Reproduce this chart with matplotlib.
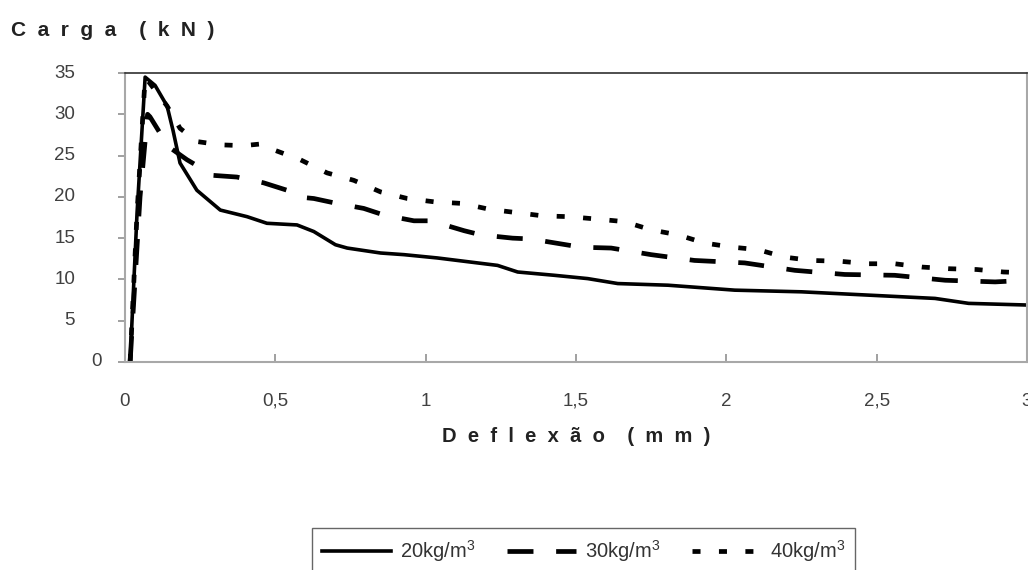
import matplotlib.pyplot as plt
from matplotlib.transforms import blended_transform_factory

# dados (deflexão em mm, carga em kN)
x20 = [0.017, 0.04, 0.067, 0.1, 0.14, 0.16, 0.183, 0.239, 0.317, 0.406, 0.472, 0.572,
       0.628, 0.7, 0.739, 0.85, 0.928, 1.039, 1.15, 1.239, 1.306, 1.428, 1.539, 1.639,
       1.806, 2.028, 2.25, 2.472, 2.694, 2.806, 3.0]
y20 = [0, 18, 34.5, 33.5, 31, 28, 24.1, 20.8, 18.4, 17.6, 16.8, 16.6,
       15.8, 14.2, 13.8, 13.2, 13.0, 12.6, 12.1, 11.7, 10.9, 10.5, 10.1, 9.5,
       9.3, 8.7, 8.5, 8.1, 7.7, 7.1, 6.9]

x30 = [0.017, 0.05, 0.075, 0.083, 0.144, 0.206, 0.294, 0.372, 0.461, 0.539, 0.572, 0.628,
       0.705, 0.794, 0.861, 0.961, 1.017, 1.128, 1.183, 1.289, 1.35, 1.45, 1.517, 1.617,
       1.75, 1.894, 2.061, 2.228, 2.394, 2.56, 2.728, 2.894, 3.0]
y30 = [0, 20, 30, 29.7, 26.1, 24.5, 22.6, 22.4, 21.7, 20.8, 20.0, 19.8,
       19.2, 18.6, 17.8, 17.1, 17.1, 15.9, 15.4, 15.0, 14.9, 14.3, 13.9, 13.8,
       13.0, 12.3, 12.0, 11.1, 10.6, 10.5, 9.9, 9.7, 9.9]

x40 = [0.017, 0.04, 0.067, 0.14, 0.183, 0.239, 0.317, 0.394, 0.45, 0.494, 0.583, 0.672,
       0.761, 0.85, 0.939, 1.028, 1.122, 1.211, 1.3, 1.389, 1.478, 1.572, 1.661, 1.75,
       1.839, 1.928, 2.022, 2.106, 2.194, 2.283, 2.378, 2.472, 2.56, 2.65, 2.739, 2.833,
       2.922, 3.0]
y40 = [0, 18, 34.5, 31, 28.3, 26.7, 26.3, 26.2, 26.4, 25.7, 24.5, 22.9,
       22.0, 20.6, 19.8, 19.4, 19.2, 18.5, 18.1, 17.7, 17.6, 17.3, 17.0, 16.0,
       15.4, 14.4, 13.9, 13.6, 12.7, 12.3, 12.2, 11.9, 11.9, 11.5, 11.3, 11.2,
       10.9, 10.8]

labels = ['20kg/m$^3$', '30kg/m$^3$', '40kg/m$^3$']
xticks = [0, 0.5, 1, 1.5, 2, 2.5, 3]
xticklabels = ['0', '0,5', '1', '1,5', '2', '2,5', '3']
yticks = [0, 5, 10, 15, 20, 25, 30, 35]

plt.rcParams['font.family'] = ['Liberation Sans', 'DejaVu Sans']
plt.rcParams['mathtext.fontset'] = 'custom'
plt.rcParams['mathtext.rm'] = 'Liberation Sans'

W, H = 1028, 570
fig = plt.figure(figsize=(W / 100, H / 100), dpi=100)
ax = fig.add_axes([125 / W, 208 / H, 902 / W, 289 / H])

ax.plot(x20, y20, color='black', lw=2.6, label=labels[0])
ax.plot(x30, y30, color='black', lw=3.4, linestyle=(0, (5.5, 4.8)), label=labels[1])
ax.plot(x40, y40, color='black', lw=3.4, linestyle=(0, (1.7, 3.9)), label=labels[2])

ax.set_xlim(0, 3)
ax.set_ylim(0, 35)
ax.set_xticks(xticks)
ax.set_xticklabels(xticklabels)
ax.set_yticks(yticks)
ax.set_yticklabels([])

# rótulos do eixo y (o "0" fica mais à direita, como no original)
trans = blended_transform_factory(fig.transFigure, ax.transData)
for v in yticks:
    xr = 102 / W if v == 0 else 75 / W
    ax.text(xr, v, str(v), transform=trans, ha='right', va='center',
            fontsize=13.5, color='#404040')

for s in ['left', 'bottom', 'right']:
    ax.spines[s].set_color('#a8a8a8')
    ax.spines[s].set_linewidth(1.5)
ax.spines['top'].set_color('#303030')
ax.spines['top'].set_linewidth(1.2)

ax.tick_params(axis='x', direction='in', length=6, color='#909090', width=1.2,
               labelsize=13.5, labelcolor='#404040', pad=22)
ax.tick_params(axis='y', direction='out', length=5, color='#909090', width=1.2)

fig.text(11 / W, 1 - 31 / H, 'C  a  r  g  a    (  k  N  )', fontsize=15,
         fontweight='bold', va='center', ha='left', color='#222222')
fig.text(576 / W, 1 - 437 / H, 'D  e  f  l  e  x  ã  o    (  m  m  )', fontsize=14.5,
         fontweight='bold', va='center', ha='center', color='#222222')

leg = fig.legend(loc='upper left', bbox_to_anchor=(312 / W, 1 - 528 / H),
                 ncol=3, frameon=True, fancybox=False,
                 prop={'size': 14.5},
                 handlelength=3.4, handletextpad=0.45, columnspacing=1.6,
                 borderpad=0.5, borderaxespad=0)
leg.get_frame().set_edgecolor('#404040')
leg.get_frame().set_linewidth(1.0)
for t in leg.get_texts():
    t.set_color('#333333')

fig.savefig('out.png', dpi=100)
